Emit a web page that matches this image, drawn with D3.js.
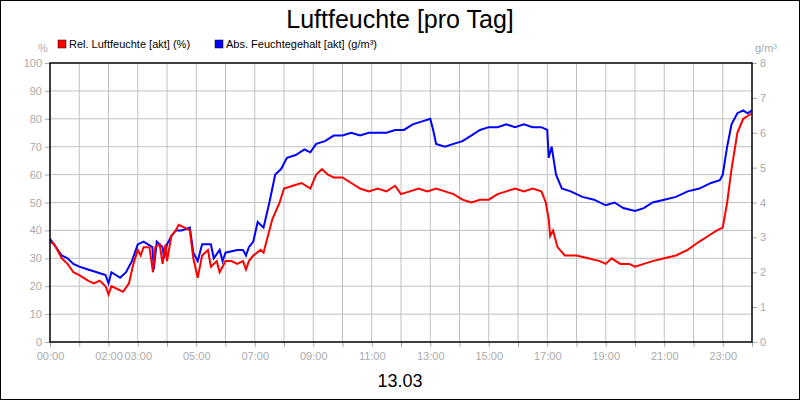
<!DOCTYPE html><html><head><meta charset="utf-8"><script src="https://cdn.jsdelivr.net/npm/d3@7"></script>
<style>body{margin:0;background:#fff}text{font-family:Arial,"Liberation Sans",sans-serif}</style></head><body><svg id="c" width="800" height="400"></svg><script>
const relTime=[0,.15,.4,.6,.8,1,1.3,1.5,1.7,1.9,2,2.1,2.3,2.5,2.7,2.85,3,3.1,3.2,3.4,3.52,3.6,3.75,3.85,3.95,4,4.15,4.3,4.4,4.6,4.78,4.9,5.05,5.2,5.4,5.5,5.7,5.8,6,6.2,6.4,6.6,6.7,6.8,6.95,7.2,7.3,7.6,7.85,8,8.3,8.6,8.9,9.1,9.3,9.5,9.7,10,10.3,10.6,10.9,11.2,11.5,11.8,12,12.3,12.6,12.9,13.2,13.5,13.8,14.1,14.4,14.7,15,15.3,15.6,15.9,16.2,16.5,16.8,16.95,17.05,17.1,17.2,17.35,17.6,18,18.4,18.8,19,19.2,19.5,19.8,20,20.3,20.6,21,21.4,21.8,22.2,22.5,22.8,23,23.15,23.3,23.5,23.7,23.85,24];
const relValues=[36,35,30,28,25,24,22,21,22,20,17,20,19,18,21,28,33,31,34,34,25,34,35,28,35,29,38,40,42,41,40,30,23,31,33,27,29,25,29,29,28,29,26,29,31,33,32,44,50,55,56,57,55,60,62,60,59,59,57,55,54,55,54,56,53,54,55,54,55,54,53,51,50,51,51,53,54,55,54,55,54,50,44,38,40,34,31,31,30,29,28,30,28,28,27,28,29,30,31,33,36,38,40,41,50,62,75,80,81,82];
const absTime=[0,.2,.4,.6,.8,1,1.3,1.6,1.9,2,2.1,2.4,2.6,2.8,3,3.2,3.5,3.55,3.65,3.85,3.9,4,4.15,4.3,4.5,4.78,4.9,5.05,5.2,5.5,5.6,5.8,5.9,6,6.4,6.6,6.7,6.8,6.95,7.1,7.3,7.5,7.7,7.9,8.1,8.4,8.7,8.9,9.1,9.4,9.7,10,10.3,10.6,10.9,11.2,11.5,11.8,12.1,12.4,12.7,13,13.1,13.2,13.5,13.8,14.1,14.4,14.7,15,15.3,15.6,15.9,16.2,16.5,16.8,17,17.05,17.15,17.3,17.5,17.8,18.2,18.6,19,19.3,19.6,20,20.3,20.6,21,21.4,21.8,22.2,22.6,22.9,23,23.15,23.3,23.5,23.7,23.85,24];
const absValues=[2.96,2.72,2.48,2.4,2.24,2.16,2.08,2.0,1.92,1.68,2.0,1.84,2.0,2.32,2.8,2.88,2.72,2.08,2.88,2.72,2.4,2.8,3.04,3.2,3.2,3.28,2.56,2.32,2.8,2.8,2.4,2.64,2.32,2.56,2.64,2.64,2.48,2.72,2.88,3.44,3.28,4.0,4.8,4.96,5.28,5.36,5.52,5.44,5.68,5.76,5.92,5.92,6.0,5.92,6.0,6.0,6.0,6.08,6.08,6.24,6.32,6.4,6.08,5.68,5.6,5.68,5.76,5.92,6.08,6.16,6.16,6.24,6.16,6.24,6.16,6.16,6.08,5.28,5.6,4.8,4.4,4.32,4.16,4.08,3.92,4.0,3.84,3.76,3.84,4.0,4.08,4.16,4.32,4.4,4.56,4.64,4.8,5.6,6.24,6.56,6.64,6.56,6.64];
const xTickLabels=["00:00","02:00","03:00","05:00","07:00","09:00","11:00","13:00","15:00","17:00","19:00","21:00","23:00"];
const leftTicks=[0,10,20,30,40,50,60,70,80,90,100];
const rightTicks=[0,1,2,3,4,5,6,7,8];
const legendLabels=["Rel. Luftfeuchte [akt] (%)","Abs. Feuchtegehalt [akt] (g/m³)"];
const colors=["#ff0000","#0000ff"];

const svg=d3.select("#c");
const L=50,R=752,T=63,B=342;
const x=d3.scaleLinear().domain([0,24]).range([L,R]);
const yl=d3.scaleLinear().domain([0,100]).range([B,T]);
const yr=d3.scaleLinear().domain([0,8]).range([B,T]);
svg.append("rect").attr("x",.5).attr("y",.5).attr("width",799).attr("height",399).attr("fill","none").attr("stroke","#000");
const g=svg.append("g");
// grid
g.selectAll(".vg").data(d3.range(1,24)).join("line").attr("x1",d=>x(d)).attr("x2",d=>x(d)).attr("y1",T).attr("y2",B).attr("stroke","#c0c0c0");
g.selectAll(".hg").data(leftTicks.slice(1,-1)).join("line").attr("x1",L).attr("x2",R).attr("y1",d=>yl(d)).attr("y2",d=>yl(d)).attr("stroke","#c0c0c0");
const gray="#aaa";
// axes
const tickH=xTickLabels.map(s=>+s.slice(0,2));
const ax=g.append("g").attr("transform",`translate(0,${B})`).call(d3.axisBottom(x).tickValues(d3.range(0,25)).tickSize(5).tickFormat(d=>tickH.includes(d)&&d<24?xTickLabels[tickH.indexOf(d)]:""));
const al=g.append("g").attr("transform",`translate(${L},0)`).call(d3.axisLeft(yl).tickValues(leftTicks).tickSize(5));
const ar=g.append("g").attr("transform",`translate(${R},0)`).call(d3.axisRight(yr).tickValues(rightTicks).tickSize(5));
[ax,al,ar].forEach(a=>{a.select(".domain").remove();a.selectAll("line").attr("stroke",gray);a.selectAll("text").attr("fill",gray).attr("font-size",11);});
ax.selectAll("text").attr("dy","0.9em");
// lines
const lr=d3.line().x((d,i)=>x(relTime[i])).y(d=>yl(d));
const lb=d3.line().x((d,i)=>x(absTime[i])).y(d=>yr(d));
g.append("path").attr("d",lb(absValues)).attr("fill","none").attr("stroke",colors[1]).attr("stroke-width",2);
g.append("path").attr("d",lr(relValues)).attr("fill","none").attr("stroke",colors[0]).attr("stroke-width",2);
g.append("rect").attr("x",L).attr("y",T).attr("width",R-L).attr("height",B-T).attr("fill","none").attr("stroke","#000").attr("stroke-width",1.5);
// texts
svg.append("text").attr("x",400).attr("y",28).attr("text-anchor","middle").attr("font-size",25).text("Luftfeuchte [pro Tag]");
svg.append("text").attr("x",400).attr("y",387).attr("text-anchor","middle").attr("font-size",18).text("13.03");
svg.append("text").attr("x",43).attr("y",52).attr("text-anchor","middle").attr("fill",gray).attr("font-size",11).text("%");
svg.append("text").attr("x",766).attr("y",52).attr("text-anchor","middle").attr("fill",gray).attr("font-size",11).text("g/m³");
const lx=[58,215];
legendLabels.forEach((t,i)=>{
 svg.append("rect").attr("x",lx[i]).attr("y",40).attr("width",8).attr("height",8).attr("fill",colors[i]).attr("stroke","#000").attr("stroke-width",.5);
 svg.append("text").attr("x",lx[i]+11).attr("y",48).attr("font-size",11).text(t);
});
</script></body></html>
